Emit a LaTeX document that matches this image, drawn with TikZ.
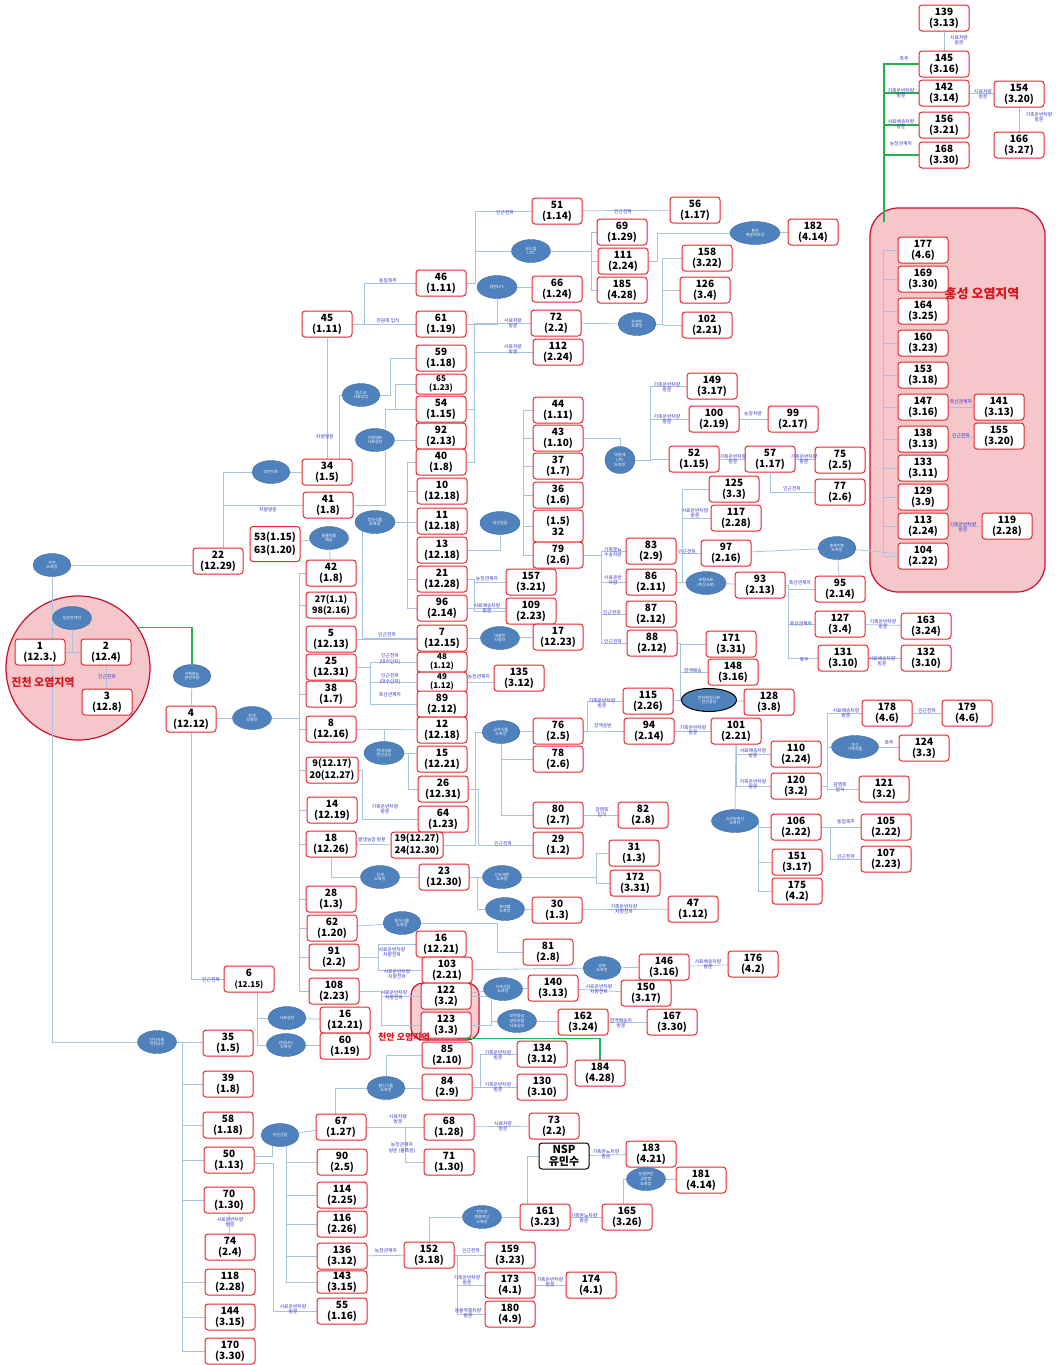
\documentclass[tikz,border=0pt]{standalone}
\usepackage{fontspec}
\setmainfont{Noto Sans CJK KR}
\usetikzlibrary{shapes.geometric}
\definecolor{boxred}{HTML}{E8262B}
\definecolor{linkblue}{HTML}{A9C2DE}
\definecolor{ellblue}{HTML}{4F81BD}
\definecolor{lblblue}{HTML}{3030C0}
\definecolor{zonefill}{HTML}{F5C6CA}
\definecolor{zoneedge}{HTML}{C8102E}
\definecolor{zonetext}{HTML}{D9141C}
\definecolor{greenlink}{HTML}{22B14C}
\pgfdeclarelayer{zones}
\pgfdeclarelayer{links}
\pgfsetlayers{zones,links,main}
\newcounter{lblc}
\newcommand\farmbox[4]{\node[box] (n#1) at (#2,#3) {#1\\(#4)};}
\newcommand\elbl[3]{\stepcounter{lblc}\node[lbl] (lbl-\arabic{lblc}) at (#1,#2) {#3};}
\newcommand\hub[5]{\node[ell,minimum width=#4pt] (#1) at (#2,#3) {#5};}
\begin{document}
\begin{tikzpicture}[x=1pt,y=-1pt,
  box/.style={draw=boxred,line width=1pt,rounded corners=3pt,fill=white,
    minimum width=50pt,minimum height=26pt,inner sep=1pt,align=center,
    font=\bfseries\fontsize{10}{11}\selectfont},
  smallbox/.style={minimum height=20pt,font=\bfseries\fontsize{8}{8.5}\selectfont},
  ell/.style={ellipse,fill=ellblue,draw=ellblue!85!black,line width=0.4pt,inner sep=0pt,
    minimum height=23pt,text=white,align=center,font=\fontsize{4}{4.6}\selectfont},
  lbl/.style={font=\fontsize{4.8}{5.2}\selectfont,text=lblblue,align=center,inner sep=0.3pt},
  ln/.style={draw=linkblue,line width=0.8pt},
  gline/.style={draw=greenlink,line width=1.3pt},
  zone/.style={fill=zonefill,draw=zoneedge,line width=1.2pt},
  zonelbl/.style={text=zonetext,font=\bfseries\fontsize{#1}{#1}\selectfont}]
\useasboundingbox (0,0) rectangle (1058,1365);

% ---------- outbreak zones ----------
\begin{pgfonlayer}{zones}
\node[zone,rounded corners=28pt,minimum width=175pt,minimum height=384pt] (rHong) at (957.5,400) {};
\node[zone,circle,minimum size=144pt] (rJin) at (78,668) {};
\node[zone,rounded corners=12pt,minimum width=68pt,minimum height=57pt,fill opacity=0.85] (rCheon) at (445,1011.5) {};
\end{pgfonlayer}
\node[zonelbl=13] (tHong) at (982,294) {홍성 오염지역};
\node[zonelbl=11] (tJin) at (43,682) {진천 오염지역};

% ---------- farms ----------
\farmbox{139}{944}{18}{3.13}
\farmbox{145}{944}{64}{3.16}
\farmbox{142}{944}{93}{3.14}
\farmbox{156}{944}{125}{3.21}
\farmbox{168}{944}{155}{3.30}
\farmbox{154}{1019}{94}{3.20}
\farmbox{166}{1019}{145}{3.27}
\farmbox{177}{923}{250}{4.6}
\farmbox{169}{923}{279}{3.30}
\farmbox{164}{923}{311}{3.25}
\farmbox{160}{923}{343}{3.23}
\farmbox{153}{923}{375}{3.18}
\farmbox{147}{923}{407}{3.16}
\farmbox{138}{923}{439}{3.13}
\farmbox{133}{923}{468}{3.11}
\farmbox{129}{923}{497}{3.9}
\farmbox{113}{923}{526}{2.24}
\farmbox{104}{923}{556}{2.22}
\farmbox{141}{999}{407}{3.13}
\farmbox{155}{999}{436}{3.20}
\farmbox{119}{1007}{526}{2.28}

\farmbox{51}{557}{211}{1.14}
\farmbox{56}{695}{210}{1.17}
\farmbox{69}{622}{232}{1.29}
\farmbox{111}{623}{261}{2.24}
\farmbox{185}{622}{290}{4.28}
\farmbox{182}{813}{232}{4.14}
\farmbox{158}{707}{258}{3.22}
\farmbox{126}{705}{290}{3.4}
\farmbox{102}{707}{325}{2.21}
\farmbox{66}{557}{289}{1.24}
\farmbox{72}{556}{323}{2.2}
\farmbox{112}{558}{352}{2.24}
\farmbox{46}{441}{283}{1.11}
\farmbox{61}{441}{324}{1.19}
\farmbox{45}{327}{324}{1.11}
\farmbox{59}{441}{358}{1.18}
\node[box,smallbox] (n65) at (441,384) {65\\(1.23)};
\farmbox{54}{441}{409}{1.15}
\farmbox{92}{441}{436}{2.13}
\farmbox{40}{441}{462}{1.8}
\farmbox{10}{442}{491}{12.18}
\farmbox{11}{442}{521}{12.18}
\farmbox{13}{442}{550}{12.18}
\farmbox{21}{442}{579}{12.28}
\farmbox{96}{442}{608}{2.14}
\farmbox{7}{442}{638}{12.15}
\node[box,smallbox] (n48) at (442,662) {48\\(1.12)};
\node[box,smallbox] (n49) at (442,682) {49\\(1.12)};
\farmbox{89}{442}{704}{2.12}
\farmbox{12}{442}{730}{12.18}
\farmbox{15}{442}{759}{12.21}
\farmbox{26}{443}{789}{12.31}
\farmbox{64}{443}{819}{1.23}
\node[box,font=\bfseries\fontsize{9.3}{12}\selectfont,minimum width=52pt] (n19) at (417,845) {19(12.27)\\24(12.30)};
\farmbox{23}{444}{877}{12.30}
\node[box] (n16b) at (441,944) {16\\(12.21)};
\farmbox{103}{447}{970}{2.21}
\farmbox{122}{446}{996}{3.2}
\farmbox{123}{446}{1025}{3.3}
\farmbox{85}{447}{1055}{2.10}
\farmbox{84}{447}{1087}{2.9}

\farmbox{44}{558}{410}{1.11}
\farmbox{43}{558}{438}{1.10}
\farmbox{37}{558}{466}{1.7}
\farmbox{36}{558}{495}{1.6}
\node[box,minimum height=32pt] (n32) at (558,526) {(1.5)\\32};
\farmbox{79}{558}{555}{2.6}
\farmbox{157}{531}{582}{3.21}
\farmbox{109}{531}{611}{2.23}
\farmbox{17}{558}{637}{12.23}
\farmbox{135}{519}{678}{3.12}
\farmbox{76}{558}{731}{2.5}
\farmbox{78}{558}{759}{2.6}
\farmbox{80}{558}{815}{2.7}
\farmbox{82}{643}{815}{2.8}
\farmbox{29}{558}{845}{1.2}
\farmbox{31}{634}{853}{1.3}
\farmbox{172}{635}{883}{3.31}
\farmbox{30}{557}{910}{1.3}
\farmbox{47}{693}{909}{1.12}
\farmbox{81}{548}{952}{2.8}
\farmbox{146}{664}{967}{3.16}
\farmbox{176}{753}{964}{4.2}
\farmbox{140}{553}{988}{3.13}
\farmbox{150}{646}{993}{3.17}
\farmbox{162}{583}{1022}{3.24}
\farmbox{167}{672}{1022}{3.30}
\farmbox{134}{542}{1054}{3.12}
\farmbox{130}{542}{1087}{3.10}
\farmbox{184}{600}{1073}{4.28}
\farmbox{68}{449}{1127}{1.28}
\farmbox{71}{449}{1162}{1.30}
\farmbox{73}{554}{1126}{2.2}
\node[box,draw=black,font=\bfseries\fontsize{11}{12.5}\selectfont] (nNSP) at (564,1156) {NSP\\유민수};
\farmbox{183}{651}{1154}{4.21}
\farmbox{181}{701}{1180}{4.14}
\farmbox{161}{545}{1217}{3.23}
\farmbox{165}{627}{1217}{3.26}
\farmbox{152}{429}{1255}{3.18}
\farmbox{159}{510}{1255}{3.23}
\farmbox{173}{510}{1285}{4.1}
\farmbox{180}{510}{1314}{4.9}
\farmbox{174}{591}{1285}{4.1}

\farmbox{149}{712}{386}{3.17}
\farmbox{100}{714}{419}{2.19}
\farmbox{99}{793}{419}{2.17}
\farmbox{52}{694}{459}{1.15}
\farmbox{57}{770}{459}{1.17}
\farmbox{75}{840}{460}{2.5}
\farmbox{125}{734}{489}{3.3}
\farmbox{77}{840}{492}{2.6}
\farmbox{117}{736}{518}{2.28}
\farmbox{97}{726}{553}{2.16}
\farmbox{93}{760}{585}{2.13}
\farmbox{95}{840}{589}{2.14}
\farmbox{83}{651}{551}{2.9}
\farmbox{86}{651}{582}{2.11}
\farmbox{87}{651}{614}{2.12}
\farmbox{88}{652}{643}{2.12}
\farmbox{171}{731}{644}{3.31}
\farmbox{148}{733}{672}{3.16}
\farmbox{128}{769}{702}{3.8}
\farmbox{115}{648}{701}{2.26}
\farmbox{94}{649}{731}{2.14}
\farmbox{101}{736}{731}{2.21}
\farmbox{127}{840}{624}{3.4}
\farmbox{163}{926}{626}{3.24}
\farmbox{131}{843}{658}{3.10}
\farmbox{132}{926}{658}{3.10}
\farmbox{178}{887}{713}{4.6}
\farmbox{179}{967}{713}{4.6}
\farmbox{124}{924}{748}{3.3}
\farmbox{110}{796}{754}{2.24}
\farmbox{120}{796}{786}{3.2}
\farmbox{121}{884}{789}{3.2}
\farmbox{106}{796}{827}{2.22}
\farmbox{105}{886}{827}{2.22}
\farmbox{151}{797}{862}{3.17}
\farmbox{107}{886}{859}{2.23}
\farmbox{175}{797}{891}{4.2}

\farmbox{34}{327}{472}{1.5}
\farmbox{41}{328}{505}{1.8}
\node[box,minimum height=35pt,font=\bfseries\fontsize{10}{13}\selectfont] (n53) at (275,544) {53(1.15)\\63(1.20)};
\farmbox{22}{218}{561}{12.29}
\farmbox{42}{331}{573}{1.8}
\node[box,font=\bfseries\fontsize{9}{11}\selectfont] (n27) at (331,605) {27(1.1)\\98(2.16)};
\farmbox{5}{331}{639}{12.13}
\farmbox{25}{331}{667}{12.31}
\farmbox{38}{331}{694}{1.7}
\farmbox{8}{331}{729}{12.16}
\node[box,font=\bfseries\fontsize{9.3}{12}\selectfont,minimum width=52pt] (n9) at (332,770) {9(12.17)\\20(12.27)};
\farmbox{14}{332}{810}{12.19}
\farmbox{18}{331}{844}{12.26}
\farmbox{28}{331}{899}{1.3}
\farmbox{62}{332}{928}{1.20}
\farmbox{91}{334}{957}{2.2}
\farmbox{108}{334}{991}{2.23}
\node[box] (n6) at (249,979) {6\\{\fontsize{8}{9}\selectfont(12.15)}};
\farmbox{16}{345}{1020}{12.21}
\farmbox{60}{345}{1046}{1.19}
\farmbox{4}{191}{719}{12.12}
\node[box] (n1) at (40,652) {1\\(12.3.)};
\farmbox{2}{106}{652}{12.4}
\farmbox{3}{107}{702}{12.8}
\farmbox{35}{228}{1043}{1.5}
\farmbox{39}{228}{1084}{1.8}
\farmbox{58}{228}{1125}{1.18}
\farmbox{50}{229}{1160}{1.13}
\farmbox{70}{229}{1200}{1.30}
\farmbox{74}{230}{1247}{2.4}
\farmbox{118}{230}{1282}{2.28}
\farmbox{144}{230}{1317}{3.15}
\farmbox{170}{230}{1351}{3.30}
\farmbox{67}{341}{1127}{1.27}
\farmbox{90}{342}{1162}{2.5}
\farmbox{114}{342}{1195}{2.25}
\farmbox{116}{342}{1224}{2.26}
\farmbox{136}{342}{1256}{3.12}
\node[box,minimum height=21pt] (n143) at (342,1282) {143\\(3.15)};
\farmbox{55}{342}{1311}{1.16}

\node[zonelbl=9] (tCheon) at (404,1037) {천안 오염지역};

% ---------- facilities ----------
\hub{eDodram}{531}{251}{39}{도드람\\LPC}
\hub{eGyeongwon}{497}{287}{40}{경원LPC}
\hub{eDonandon}{637}{324}{38}{돈앤돈\\도축장}
\hub{eHongcheon}{755}{233}{50}{홍천\\축분처리장}
\hub{eDongsko}{361}{395}{38}{동스코\\사료공장}
\hub{eEnf}{375}{440}{39}{이엔에프\\사료공장}
\node[ell,minimum width=30pt,minimum height=27pt] (eBakdal) at (620,460) {박달재\\LPC\\도축장};
\hub{eDaejeon}{271}{472}{38}{대전이트}
\hub{eCheongwon}{375}{522}{40}{청원식품\\도축장}
\hub{eDongmul}{329}{538}{39}{동물약품\\배송}
\hub{eDaeseong}{500}{523}{40}{대성실업}
\hub{eWoojin}{52}{565}{38}{우진\\도축장}
\hub{eFarm}{72}{618}{39}{농장관계자}
\hub{eManure}{192}{676}{38}{가축분뇨\\운반차량}
\hub{eHansaeng}{252}{718}{39}{한생\\도축장}
\hub{eDaepung}{500}{638}{39}{대풍돈\\사랑터}
\hub{eHyundai}{384}{753}{40}{현대사료\\천안공장}
\hub{eGongju}{501}{732}{38}{공주식품\\도축장}
\hub{eBoryeong}{706}{583}{40}{보령사료\\(주상사료)}
\hub{eHongju}{837}{548}{38}{홍주미트\\도축장}
\node[ell,minimum width=55pt,draw=black,line width=1pt] (eCheonha) at (709,700) {천하제일사료\\천안공장};
\hub{eYoungshin}{855}{747}{47}{영신\\가축약품}
\hub{eSmile}{735}{821}{47}{스마일축산\\도축장}
\hub{eSangse}{380}{877}{39}{상세\\도축장}
\hub{eSindo}{502}{877}{39}{신도세판\\도축장}
\hub{eLotte}{505}{909}{39}{롯데햄\\도축장}
\hub{eDonga}{402}{923}{38}{동아식품\\도축장}
\hub{eGyeongchuk}{602}{968}{38}{경축\\도축장}
\hub{eSeojo}{503}{989}{39}{서조산업\\도축장}
\hub{eDaehan}{517}{1021}{39}{대한중남\\양돈조합\\사료공장}
\hub{eFeed}{287}{1018}{38}{사료공장}
\hub{eGangwon}{286}{1045}{39}{강원LPC\\도축장}
\hub{eSeonjin}{157}{1042}{39}{선진사료\\이천공장}
\hub{eHyeopsin}{386}{1088}{38}{협신식품\\도축장}
\hub{eWoojinsan}{280}{1135}{38}{우진산업}
\hub{eCheonhajeong}{482}{1217}{39}{천하정\\명품축산\\도축장}
\hub{eNonghyup}{646}{1179}{39}{농협부천\\공판장\\도축장}

% ---------- link labels ----------
\elbl{959}{40}{사료차량\\방문}
\elbl{904}{59}{축주}
\elbl{901}{93}{가축운반차량\\방문}
\elbl{901}{124}{사료배송차량\\방문}
\elbl{901}{144}{농장관계자}
\elbl{983}{94}{사료차량\\방문}
\elbl{1039}{117}{가축운반차량\\방문}
\elbl{961}{402}{축산관계자}
\elbl{961}{436}{인근전파}
\elbl{963}{527}{가축운반차량\\방문}
\elbl{388}{281}{동일축주}
\elbl{388}{321}{강원축 입식}
\elbl{325}{437}{차량방문}
\elbl{268}{510}{차량방문}
\elbl{505}{213}{인근전파}
\elbl{623}{212}{인근전파}
\elbl{513}{323}{사료차량\\방문}
\elbl{513}{349}{사료차량\\방문}
\elbl{667}{387}{가축운반차량\\방문}
\elbl{667}{419}{가축운반차량\\방문}
\elbl{753}{414}{농장차량}
\elbl{733}{459}{가축운반차량\\방문}
\elbl{804}{459}{가축운반차량\\방문}
\elbl{792}{489}{인근전파}
\elbl{695}{513}{사료운반차량\\방문}
\elbl{687}{552}{인근전파}
\elbl{800}{583}{축산관계자}
\elbl{801}{624}{축산관계자}
\elbl{804}{660}{축주}
\elbl{883}{624}{가축운반차량\\방문}
\elbl{882}{661}{사료배송차량\\방문}
\elbl{693}{671}{장액배송}
\elbl{693}{730}{가축운반차량\\방문}
\elbl{753}{753}{사료배송차량\\방문}
\elbl{753}{784}{가축운반차량\\방문}
\elbl{846}{713}{사료배송차량\\방문}
\elbl{927}{711}{인근전파}
\elbl{889}{743}{축주}
\elbl{840}{787}{감염축\\입식}
\elbl{846}{822}{동일축주}
\elbl{846}{857}{인근전파}
\elbl{708}{964}{사료배송차량\\방문}
\elbl{613}{552}{가축분뇨\\수송차량}
\elbl{613}{580}{사료운반\\차량}
\elbl{612}{613}{인근전파}
\elbl{613}{642}{인근전파}
\elbl{487}{579}{농장관계자}
\elbl{487}{608}{사료배송차량\\방문}
\elbl{387}{635}{인근전파}
\elbl{390}{659}{인근전파\\(대수단지)}
\elbl{390}{679}{인근전파\\(대수단지)}
\elbl{390}{695}{축산관계자}
\elbl{479}{677}{농장관계자}
\elbl{602}{703}{가축운반차량\\방문}
\elbl{603}{726}{장액운반}
\elbl{385}{809}{가축운반차량\\방문}
\elbl{372}{840}{발생농장 방문}
\elbl{503}{844}{인근전파}
\elbl{602}{812}{감염축\\입식}
\elbl{624}{909}{가축운반차량\\차량전파}
\elbl{392}{952}{사료운반차량\\차량전파}
\elbl{397}{974}{사료운반차량\\차량전파}
\elbl{394}{995}{사료운반차량\\차량전파}
\elbl{599}{989}{사료운반차량\\차량전파}
\elbl{621}{1023}{장액배송차\\방문}
\elbl{211}{980}{인근전파}
\elbl{230}{1222}{사료운반차량\\방문}
\elbl{293}{1309}{사료운반차량\\방문}
\elbl{398}{1119}{사료차량\\방문}
\elbl{402}{1148}{농장관계자\\방문 (불특정)}
\elbl{386}{1251}{농장관계자}
\elbl{498}{1055}{가축운반차량\\방문}
\elbl{498}{1087}{가축운반차량\\방문}
\elbl{503}{1126}{사료차량\\방문}
\elbl{606}{1154}{가축분뇨차량\\방문}
\elbl{584}{1218}{가축분뇨차량\\방문}
\elbl{471}{1251}{인근전파}
\elbl{467}{1280}{가축운반차량\\방문}
\elbl{468}{1313}{동물약품차량\\방문}
\elbl{550}{1282}{가축운반차량\\방문}
\elbl{107}{677}{인근전파}

% ---------- links ----------
\begin{pgfonlayer}{links}
\coordinate (gFoot) at (884,222);
\foreach \b in {145,142,156,168} \draw[gline] (gFoot) |- (n\b.west);
\draw[gline] (rJin.34) -| (eManure.north);
\draw[gline] ([xshift=12pt,yshift=2pt]rCheon.south) -| (n184.north);

\draw[ln] (n139) -- (n145);
\draw[ln] (n142) -- (n154);
\draw[ln] (n154) -- (n166);
\foreach \b in {177,169,164,160,153,147,138,133,129,113}
  \draw[ln] (n104.west) -- ++(-14,0) |- (n\b.west);
\draw[ln] (n147) -- (n141);
\draw[ln] (n138) -- (n155);
\draw[ln] (n113) -- (n119);

\draw[ln] (n45.east) -- ++(12,0) |- (n46.west);
\draw[ln] (n45.east) -- (n61.west);
\draw[ln] (n45) -- (n34);
\draw[ln] ([xshift=5pt]n22.north) |- (eDaejeon.west);
\draw[ln] (eDaejeon) -- (n34);
\draw[ln] ([xshift=5pt]n22.north) |- (n41.west);
\draw[ln] ([xshift=12pt]n34.north) |- (eDongsko.west);
\draw[ln] (eDongsko.east) -- ++(10,0) |- (n59.west);
\draw[ln] (n41.east) -| ([xshift=10pt]eEnf.center);
\draw[ln] ([xshift=10pt]eEnf.center) |- (n54.west);
\draw[ln] (n54.west) -- ++(-20,0) |- (n65.west);
\draw[ln] (eEnf) -- (eEnf -| n92.west);
\foreach \b in {10,21,96} \draw[ln] (n40.west) -- ++(-8,0) |- (n\b.west);
\draw[ln] (eCheongwon) -- (eCheongwon -| n11.west);
\draw[ln] (eCheongwon.center) -- ++(-13,0) |- (n7.west);
\draw[ln] (n5.east) -- (n5.east -| n7.west);
\draw[ln] (n13.east) -| (eDaeseong.south);
\draw[ln] (n54.east) -- ++(8,0) |- (n72.west);
\draw[ln] (n40.east) -- ++(8,0) |- (n112.west);
\draw[ln] (n61.east) -| (eGyeongwon.south);
\draw[ln] (eGyeongwon) -- (eGyeongwon -| n66.west);
\draw[ln] (n46.east) -- ++(9,0) |- (n51.west);
\draw[ln] (n46.east) -- ++(9,0) |- (eDodram.west);
\foreach \b in {69,111,185} \draw[ln] (eDodram.east) -- ++(41,0) |- (n\b.west);
\draw[ln] (n51) -- (n56);
\draw[ln] (n111.east) -- ++(9,0) |- (eHongcheon.west);
\draw[ln] (eHongcheon) -- (n182);
\draw[ln] (n72) -- (eDonandon);
\foreach \b in {158,126,102} \draw[ln] (eDonandon.east) -- ++(6,0) |- (n\b.west);
\draw[ln] (n43.east) -| (eBakdal.north);
\foreach \b in {149,100,52} \draw[ln] (eBakdal.east) -- ++(15,0) |- (n\b.west);
\foreach \b in {44,43,37,36,32} \draw[ln] (n79.west) -- ++(-9,0) |- (n\b.west);
\draw[ln] (n100) -- (n99);
\draw[ln] (n52) -- (n57);
\draw[ln] (n57) -- (n75);
\draw[ln] (n57.south) |- (n77.west);
\foreach \b in {83,86,87,88} \draw[ln] (n79.east) -- ++(18,0) |- (n\b.west);
\draw[ln] (n21.east) -- ++(7,0) |- (n157.west);
\draw[ln] (n21.east) -- ++(7,0) |- (n109.west);
\draw[ln] (n96.east) -- (n96.east -| n109.west);
\draw[ln] (n7) -- (eDaepung);
\draw[ln] (eDaepung) -- (n17);
\foreach \b in {48,49,89} \draw[ln] (n25.east) -- ++(14,0) |- (n\b.west);
\draw[ln] (n49.east) -- (n49.east -| n135.west);
\draw[ln] (n8) -- (n12);
\draw[ln] (eHyundai.center) -- (eHyundai.center |- n12.west);
\draw[ln] (eHyundai) -- (eHyundai -| n15.west);
\draw[ln] (eHyundai.center) -- ++(24,0) |- (n26.west);
\draw[ln] (n9.east) -- ++(4,0) |- (n64.west);
\draw[ln] (n26.east) -- ++(10,0) |- (n29.west);
\draw[ln] (n19.east) -- ++(32,0) |- (eGongju.west);
\draw[ln] (eGongju) -- (n76);
\draw[ln] (eGongju.center) |- (n78.west);
\draw[ln] (eGongju.center) |- (n80.west);
\draw[ln] (n18) -- (n19);
\draw[ln] (n18.south) |- (eSangse.west);
\draw[ln] (eSangse) -- (n23);
\draw[ln] (n23.east) -- ++(8,0) |- (eSindo.west);
\draw[ln] (n23.east) -- ++(8,0) |- (eLotte.west);
\foreach \b in {31,172} \draw[ln] (eSindo.east) -- ++(75,0) |- (n\b.west);
\draw[ln] (eLotte) -- (n30);
\draw[ln] (n30) -- (n47);
\foreach \b in {115,94} \draw[ln] (n76.east) -- ++(4,0) |- (n\b.west);
\draw[ln] (n80) -- (n82);
\draw[ln] (n88.east) -- ++(3,0) |- (n171.west);
\draw[ln] (n88.east) -- ++(3,0) |- (n148.west);
\draw[ln] (n88.east) -- ++(3,0) |- (eCheonha.center);
\draw[ln] (n115) -- (eCheonha);
\draw[ln] (eCheonha) -- (n128);
\draw[ln] (n86) -- (eBoryeong);
\draw[ln] (eBoryeong) -- (n93);
\foreach \b in {125,117,97} \draw[ln] (n86.east) -- ++(6,0) |- (n\b.west);
\draw[ln] (n97) -- (eHongju);
\draw[ln] (eHongju) -- (n104);
\draw[ln] (eHongju) -- (n95);
\foreach \b in {95,127,131} \draw[ln] (n93.east) -- ++(3,0) |- (n\b.west);
\draw[ln] (n127) -- (n163);
\draw[ln] (n131) -- (n132);
\draw[ln] (n94) -- (n101);
\draw[ln] (n101.south) |- (n110.west);
\draw[ln] (n101.south) |- (n120.west);
\draw[ln] (n101) -- (eSmile);
\foreach \b in {106,151,175} \draw[ln] (eSmile.east) |- (n\b.west);
\foreach \b in {105,107} \draw[ln] (n106.east) -- ++(9,0) |- (n\b.west);
\draw[ln] (n120.east) -- ++(6,0) |- (n178.west);
\draw[ln] (n120.east) -- ++(6,0) |- (eYoungshin.west);
\draw[ln] (n120.east) -- ++(6,0) |- (n121.west);
\draw[ln] (n178) -- (n179);
\draw[ln] (eYoungshin) -- (n124);
\draw[ln] (n62) -- (eDonga);
\draw[ln] (eDonga.east) -- ++(76,0) |- (n81.west);
\foreach \b in {16b,103} \draw[ln] (n91.east) -- ++(19,0) |- (n\b.west);
\foreach \b in {122,123} \draw[ln] (n108.east) -- ++(22,0) |- (n\b.west);
\draw[ln] (n103) -- (eGyeongchuk);
\draw[ln] (eGyeongchuk) -- (n146);
\draw[ln] (n146) -- (n176);
\draw[ln] (n122) -- (eSeojo);
\draw[ln] (eSeojo) -- (n140);
\draw[ln] (n140) -- (n150);
\foreach \b in {122,123} \draw[ln] (n\b.east) -- ++(20,0) |- (eDaehan.west);
\draw[ln] (eDaehan) -- (n162);
\draw[ln] (n162) -- (n167);
\draw[ln] (eHyeopsin) -- (eHyeopsin -| n84.west);
\draw[ln] (eHyeopsin.center) |- (n85.west);
\foreach \b in {134,130} \draw[ln] (n84.east) -- ++(8,0) |- (n\b.west);
\draw[ln] ([xshift=-6pt]n67.north) |- (eHyeopsin.west);
\draw[ln] (eWoojinsan) -- (n67);
\draw[ln] ([yshift=4pt]n50.east) -| ([xshift=-8pt]eWoojinsan.center);
\foreach \b in {90,114,116,136,143} \draw[ln] (eWoojinsan.center) -- ++(6,0) |- (n\b.west);
\draw[ln] ([yshift=-3pt]n50.east) -- ++(19,0) |- (n55.west);
\draw[ln] (n67) -- (n68);
\draw[ln] (n67.east) -- ++(39,0) |- (n71.west);
\draw[ln] (n68) -- (n73);
\draw[ln] (n136) -- (n152);
\draw[ln] (n152.north) |- (eCheonhajeong.west);
\draw[ln] (eCheonhajeong) -- (n161);
\draw[ln] ([xshift=-18pt]n161.north) |- (nNSP.west);
\draw[ln] (nNSP) -- (n183);
\draw[ln] (n161) -- (n165);
\draw[ln] ([xshift=-4pt]n165.north) |- (eNonghyup.west);
\draw[ln] (eNonghyup) -- (n181);
\foreach \b in {159,173,180} \draw[ln] (n152.east) -- ++(3,0) |- (n\b.west);
\draw[ln] (n173) -- (n174);

\draw[ln] (eWoojin) -- (eWoojin -| n22.west);
\draw[ln] (eWoojin.center) |- (eSeonjin.west);
\draw[ln] (eFarm.center) |- (n1.east);
\draw[ln] (eFarm.center) |- (n2.west);
\draw[ln] (n2) -- (n3);
\draw[ln] (eManure) -- (n4);
\draw[ln] (n4) -- (eHansaeng);
\foreach \b in {42,27,38,8,9,14,18,28,62,91,108}
  \draw[ln] (eHansaeng.center) -- ++(47,0) |- (n\b.west);
\draw[ln] (n53) -- (eDongmul);
\draw[ln] (eDongmul) -- (n42);
\draw[ln] (n4.south) |- (n6.west);
\draw[ln] ([xshift=8pt]n6.south) |- (eFeed.west);
\draw[ln] ([xshift=8pt]n6.south) |- (eGangwon.west);
\draw[ln] (eFeed) -- (n16);
\draw[ln] (eGangwon) -- (n60);
\draw[ln] (eSeonjin) -- (n35);
\foreach \b in {39,58,50,70,118,144,170}
  \draw[ln] (eSeonjin.center) -- ++(25,0) |- (n\b.west);
\draw[ln] (n70) -- (n74);
\end{pgfonlayer}
\end{tikzpicture}
\end{document}
